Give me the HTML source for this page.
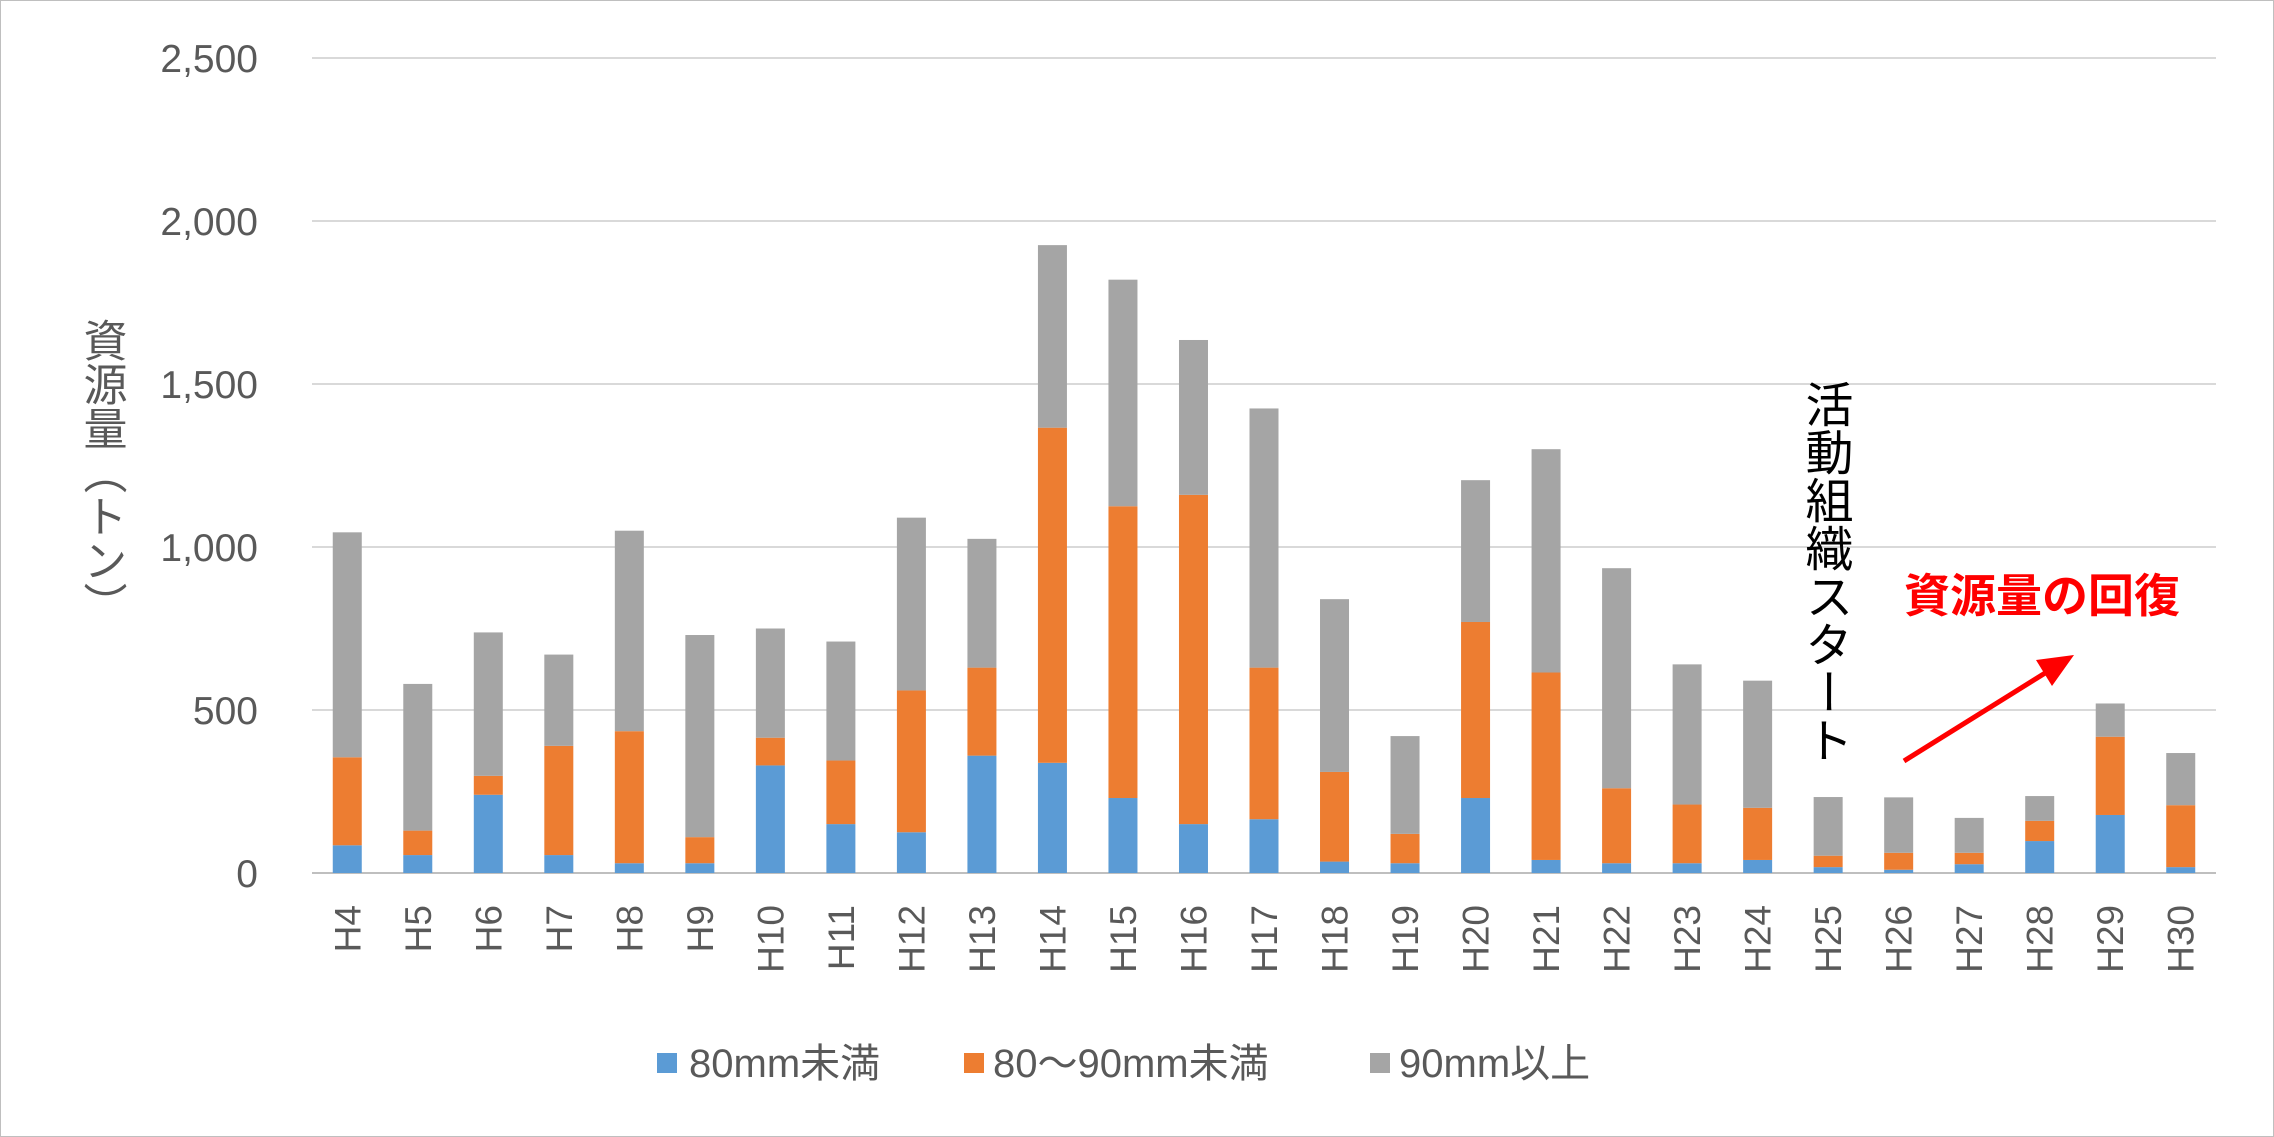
<!DOCTYPE html>
<html><head><meta charset="utf-8">
<style>
html,body{margin:0;padding:0;background:#fff;}
svg{display:block;}
text{font-family:"Liberation Sans","Noto Sans CJK JP",sans-serif;}
</style></head>
<body>
<svg id="chart" width="2274" height="1137" viewBox="0 0 2274 1137" xmlns="http://www.w3.org/2000/svg">
<rect x="0.5" y="0.5" width="2273" height="1136" fill="#fff" stroke="#bfbfbf"/>
<g id="grid"></g>
<g id="bars"></g>
<g id="ylabels"></g>
<g id="xlabels"></g>
<text x="101" y="318" font-size="44" fill="#595959" style="writing-mode:vertical-rl">資源量（トン）</text>
<text x="1824" y="380" font-size="48" fill="#000" style="writing-mode:vertical-rl">活動組織スタート</text>
<text x="1904" y="612" font-size="46" font-weight="bold" fill="#ff0000">資源量の回復</text>
<line x1="1904" y1="761" x2="2050" y2="670" stroke="#ff0000" stroke-width="5"/>
<polygon points="2074,655 2036,660 2052,686" fill="#ff0000"/>
<g>
<rect x="657" y="1053" width="20" height="20" fill="#5B9BD5"/>
<text x="689" y="1077" font-size="40" fill="#595959">80mm未満</text>
<rect x="964" y="1053" width="20" height="20" fill="#ED7D31"/>
<text x="993" y="1077" font-size="40" fill="#595959">80～90mm未満</text>
<rect x="1370" y="1053" width="20" height="20" fill="#A5A5A5"/>
<text x="1399" y="1077" font-size="40" fill="#595959">90mm以上</text>
</g>
</svg>
<script>
const categories=["H4","H5","H6","H7","H8","H9","H10","H11","H12","H13","H14","H15","H16","H17","H18","H19","H20","H21","H22","H23","H24","H25","H26","H27","H28","H29","H30"];
const under80=[85,55,240,55,30,30,330,150,125,360,338,230,150,165,35,30,230,40,30,30,40,18,10,27,98,178,18];
const from80to90=[270,75,58,335,405,80,85,195,435,270,1028,895,1010,465,275,90,540,575,230,180,160,35,52,35,62,240,190];
const over90=[690,450,440,280,615,620,335,365,530,395,560,695,475,795,530,300,435,685,675,430,390,180,170,107,76,102,160];
const yTicks=[0,500,1000,1500,2000,2500];
const yTickLabels=["0","500","1,000","1,500","2,000","2,500"];
const NS="http://www.w3.org/2000/svg";
const left=312,right=2216,y0=873,yTop=58,maxV=2500;
const band=(right-left)/categories.length,barW=29;
function y(v){return y0-(v/maxV)*(y0-yTop);}
function xc(i){return left+band*(i+0.5);}
const grid=document.getElementById('grid'),bars=document.getElementById('bars'),yl=document.getElementById('ylabels'),xl=document.getElementById('xlabels');
yTicks.forEach((t,i)=>{
 const l=document.createElementNS(NS,'line');
 l.setAttribute('x1',left);l.setAttribute('x2',right);l.setAttribute('y1',y(t));l.setAttribute('y2',y(t));
 l.setAttribute('stroke',t===0?'#bfbfbf':'#d9d9d9');l.setAttribute('stroke-width','2');
 
 
 grid.appendChild(l);
 const tx=document.createElementNS(NS,'text');
 tx.setAttribute('x',258);tx.setAttribute('y',y(t)+14);tx.setAttribute('text-anchor','end');
 tx.setAttribute('font-size','39');tx.setAttribute('fill','#595959');tx.textContent=yTickLabels[i];
 
 
 yl.appendChild(tx);
});
const series=[[under80,'#5B9BD5','bar-under-80'],[from80to90,'#ED7D31','bar-80-90'],[over90,'#A5A5A5','bar-over-90']];
categories.forEach((c,i)=>{
 let base=0;
 series.forEach(s=>{
  const v=s[0][i];
  const r=document.createElementNS(NS,'rect');
  r.setAttribute('x',xc(i)-barW/2);r.setAttribute('width',barW);
  r.setAttribute('y',y(base+v));r.setAttribute('height',y(base)-y(base+v));
  r.setAttribute('fill',s[1]);
  
  
  bars.appendChild(r);
  base+=v;
 });
 const t=document.createElementNS(NS,'text');
 t.setAttribute('transform','translate('+(xc(i)+13)+',905) rotate(-90)');
 t.setAttribute('text-anchor','end');t.setAttribute('font-size','37');t.setAttribute('fill','#595959');
 t.textContent=c;
 
 
 xl.appendChild(t);
});
</script>
</body></html>
